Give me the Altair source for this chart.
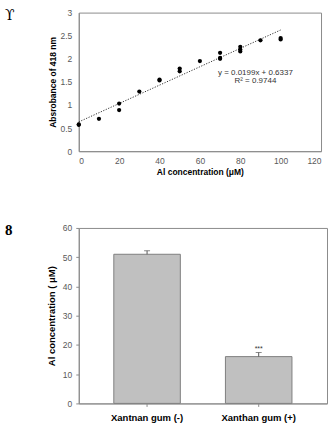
import altair as alt
import pandas as pd

# ---- Data ----
conc = [0, 0, 10, 20, 20, 30, 40, 40, 50, 50, 60, 70, 70, 70, 80, 80, 80, 90, 100, 100]
absorb = [0.57, 0.58, 0.70, 1.03, 0.89, 1.29, 1.53, 1.55, 1.79, 1.73, 1.95,
          2.13, 2.00, 2.02, 2.26, 2.20, 2.16, 2.40, 2.45, 2.42]
trend_x = [0, 100]
trend_y = [0.6337, 2.6237]
eq_lines = ["y = 0.0199x + 0.6337", "R² = 0.9744"]
eq_x = [87.5, 87.5]
eq_y = [1.70, 1.51]

groups = ["Xantnan gum (-)", "Xanthan gum (+)"]
means = [51.0, 16.0]
errs = [1.2, 1.4]
sig = ["", "***"]

panel_labels = ["ϒ", "8"]

FONT = "Liberation Sans"
LABEL_GRAY = "#595959"
FRAME = "#8c8c8c"

scatter_df = pd.DataFrame({"conc": conc, "abs": absorb})
trend_df = pd.DataFrame({"conc": trend_x, "abs": trend_y})
eq_df = pd.DataFrame({"x": eq_x, "y": eq_y, "t": eq_lines})
bar_df = pd.DataFrame({"group": groups, "mean": means,
                       "upper": [m + e for m, e in zip(means, errs)], "sig": sig})

xs = alt.Scale(domain=[0, 120], nice=False)
ys = alt.Scale(domain=[0, 3], nice=False)

x_axis = alt.Axis(values=[0, 20, 40, 60, 80, 100, 120], title="Al concentration (μM)",
                  grid=False, labelFont=FONT, labelFontSize=8.5, labelColor=LABEL_GRAY,
                  titleFont=FONT, titleFontSize=8.5, titleFontWeight="bold", titleColor="black",
                  ticks=False, labelPadding=5, titlePadding=3,
                  domainColor=FRAME)
y_axis = alt.Axis(values=[0, 0.5, 1, 1.5, 2, 2.5, 3], format="~g", title="Absrobance of 418 nm",
                  grid=False, labelFont=FONT, labelFontSize=8.5, labelColor=LABEL_GRAY,
                  titleFont=FONT, titleFontSize=8.5, titleFontWeight="bold", titleColor="black",
                  ticks=False, labelPadding=7, titlePadding=3,
                  domainColor=FRAME)

X_top = alt.X("conc:Q", scale=xs, axis=x_axis)
Y_top = alt.Y("abs:Q", scale=ys, axis=y_axis)

points = alt.Chart(scatter_df).mark_circle(color="black", opacity=1, size=18).encode(
    x=X_top, y=Y_top,
)
trend = alt.Chart(trend_df).mark_line(color="#333333", strokeDash=[1.2, 1.5], strokeWidth=1).encode(
    x=X_top, y=Y_top,
)
eq = alt.Chart(eq_df).mark_text(font=FONT, fontSize=8, color="#333333", align="center").encode(
    x=alt.X("x:Q", scale=xs, axis=x_axis),
    y=alt.Y("y:Q", scale=ys, axis=y_axis),
    text="t:N",
)
lab_a = alt.Chart(pd.DataFrame({"t": [panel_labels[0]]})).mark_text(
    font="DejaVu Serif", fontSize=14, align="left", baseline="top", color="black"
).encode(text="t:N", x=alt.value(-74), y=alt.value(-4))

top = alt.layer(trend, points, eq, lab_a).properties(width=243, height=139)

yb_axis = alt.Axis(values=[0, 10, 20, 30, 40, 50, 60], title="Al concentration ( μM)",
                   grid=False, labelFont=FONT, labelFontSize=8.5, labelColor=LABEL_GRAY,
                   titleFont=FONT, titleFontSize=9.5, titleFontWeight="bold", titleColor="black",
                   tickSize=3, labelPadding=4, titlePadding=6,
                   domainColor=FRAME, tickColor=FRAME)
xb_axis = alt.Axis(labelAngle=0, title=None, labelFont=FONT, labelFontSize=9.5,
                   labelFontWeight="bold", labelColor="black", tickSize=3, labelPadding=6,
                   domainColor=FRAME, tickColor=FRAME)
xb_scale = alt.Scale(paddingInner=0.404, paddingOuter=0.314)
yb_scale = alt.Scale(domain=[0, 60], nice=False)

XB = alt.X("group:N", sort=groups, scale=xb_scale, axis=xb_axis)

bars = alt.Chart(bar_df).mark_bar(color="#c0c0c0", stroke="#7f7f7f", strokeWidth=1).encode(
    x=XB,
    y=alt.Y("mean:Q", scale=yb_scale, axis=yb_axis),
)
err = alt.Chart(bar_df).mark_rule(color="#555555", strokeWidth=1).encode(
    x=XB,
    y=alt.Y("mean:Q", scale=yb_scale, axis=yb_axis),
    y2="upper:Q",
)
cap = alt.Chart(bar_df).mark_tick(color="#555555", thickness=1, size=6).encode(
    x=XB,
    y=alt.Y("upper:Q", scale=yb_scale, axis=yb_axis),
)
stars = alt.Chart(bar_df).mark_text(font=FONT, fontSize=7, color="#333333", baseline="bottom", dy=-1).encode(
    x=XB,
    y=alt.Y("upper:Q", scale=yb_scale, axis=yb_axis),
    text="sig:N",
)
lab_b = alt.Chart(pd.DataFrame({"t": [panel_labels[1]]})).mark_text(
    font="Liberation Serif", fontSize=15, fontWeight="bold", align="left", baseline="top", color="black"
).encode(text="t:N", x=alt.value(-74), y=alt.value(-5))

bottom = alt.layer(bars, err, cap, stars, lab_b).properties(width=249, height=176)

chart = alt.vconcat(top, bottom, spacing=45).configure_view(
    stroke=FRAME, strokeWidth=1
).properties(padding={"left": 4, "top": 7, "right": 0, "bottom": 0})

chart.save("out.html", embed_options={"renderer": "svg", "actions": False})
